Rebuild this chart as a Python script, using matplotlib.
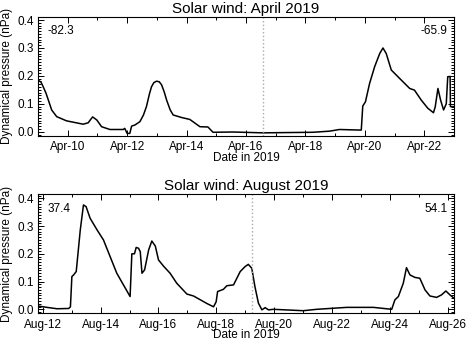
import datetime as dt
import matplotlib
matplotlib.use("Agg")
import matplotlib.pyplot as plt
import matplotlib.dates as mdates
from matplotlib.ticker import MultipleLocator, FormatStrFormatter

plt.rcParams['font.family'] = ['Liberation Sans', 'DejaVu Sans']

# April 2019: day of month (fractional) and dynamic pressure (nPa)
apr_day = [9.0, 9.1, 9.18, 9.27, 9.35, 9.46, 9.63, 9.96, 10.52, 10.69, 10.78, 10.84,
           10.98, 11.14, 11.42, 11.87, 11.92, 12.0, 12.09, 12.15, 12.26, 12.43,
           12.55, 12.65, 12.75, 12.82, 12.9, 12.99, 13.08, 13.16, 13.25, 13.33,
           13.45, 13.55, 13.83, 14.11, 14.45, 14.72, 14.89, 15.56,
           16.57, 18.25, 18.81, 19.15, 19.82, 19.88, 19.93, 20.02, 20.16, 20.33,
           20.5, 20.61, 20.72, 20.89, 21.17, 21.51, 21.67, 21.9, 22.12, 22.31,
           22.37, 22.46, 22.55, 22.65, 22.74, 22.79, 22.87, 22.88, 23.0]
apr_p = [0.185, 0.178, 0.16, 0.138, 0.113, 0.078, 0.054, 0.039, 0.027, 0.032, 0.045, 0.053,
         0.042, 0.018, 0.008, 0.008, 0.012, -0.006, -0.006, 0.02, 0.024, 0.036,
         0.06, 0.09, 0.135, 0.161, 0.176, 0.181, 0.179, 0.168, 0.142, 0.113,
         0.078, 0.06, 0.051, 0.044, 0.018, 0.017, -0.002, -0.001,
         -0.004, -0.002, 0.002, 0.008, 0.006, 0.006, 0.092, 0.107, 0.173, 0.233,
         0.28, 0.30, 0.28, 0.221, 0.191, 0.155, 0.149, 0.113, 0.084, 0.068,
         0.09, 0.155, 0.113, 0.078, 0.10, 0.197, 0.198, 0.09, 0.09]

# August 2019
aug_day = [11.84, 12.15, 12.5, 12.9, 12.96, 13.01, 13.07, 13.16, 13.3, 13.41, 13.5,
           13.64, 13.88, 14.1, 14.33, 14.56, 14.79, 15.02, 15.08, 15.17, 15.23,
           15.31, 15.37, 15.43, 15.52, 15.66, 15.77, 15.89, 16.0, 16.17, 16.4,
           16.63, 16.98, 17.21, 17.67, 17.9, 17.99, 18.04, 18.24, 18.36, 18.59,
           18.82, 18.99, 19.1, 19.22, 19.33, 19.45, 19.57, 19.68, 19.8, 19.97,
           21.0, 21.46, 22.5, 23.42, 24.05, 24.16, 24.28, 24.45, 24.56, 24.68,
           24.85, 25.02, 25.2, 25.37, 25.6, 25.77, 25.92, 26.06, 26.2]
aug_p = [0.012, 0.007, 0.002, 0.003, 0.009, 0.118, 0.124, 0.136, 0.286, 0.376, 0.37,
         0.328, 0.286, 0.25, 0.19, 0.13, 0.088, 0.046, 0.2, 0.2, 0.223,
         0.22, 0.208, 0.13, 0.142, 0.214, 0.246, 0.228, 0.178, 0.156, 0.13,
         0.094, 0.055, 0.048, 0.021, 0.009, 0.027, 0.064, 0.072, 0.085, 0.088,
         0.136, 0.154, 0.162, 0.148, 0.081, 0.022, -0.002, 0.006, -0.002, 0.0,
         -0.005, 0.0, 0.007, 0.007, 0.0, 0.034, 0.046, 0.094, 0.15, 0.124,
         0.115, 0.112, 0.07, 0.048, 0.043, 0.052, 0.066, 0.052, 0.04]

panels = [
    dict(title="Solar wind: April 2019", month=4, day=apr_day, p=apr_p,
         xlim=(9.0, 23.0), ylim=(-0.0143, 0.412), event=16.57,
         left_txt="-82.3", right_txt="-65.9",
         rect=[0.0803, 0.602, 0.8795, 0.349]),
    dict(title="Solar wind: August 2019", month=8, day=aug_day, p=aug_p,
         xlim=(11.84, 26.2), ylim=(-0.0144, 0.4144), event=19.22,
         left_txt="37.4", right_txt="54.1",
         rect=[0.0803, 0.0812, 0.8795, 0.349]),
]


def to_date(month, d):
    return dt.datetime(2019, month, 1) + dt.timedelta(days=d - 1)


fig = plt.figure(figsize=(4.73, 3.41), dpi=100)

for pan in panels:
    ax = fig.add_axes(pan['rect'])
    t = [to_date(pan['month'], d) for d in pan['day']]
    ax.plot(t, pan['p'], color='black', lw=1.1)
    ev = to_date(pan['month'], pan['event'])
    ax.axvline(ev, color='#aaaaaa', ls=':', lw=1.0)
    ax.set_xlim(to_date(pan['month'], pan['xlim'][0]), to_date(pan['month'], pan['xlim'][1]))
    ax.set_ylim(*pan['ylim'])

    ax.xaxis.set_major_locator(mdates.DayLocator(bymonthday=range(2, 32, 2)))
    ax.xaxis.set_minor_locator(mdates.DayLocator())
    ax.xaxis.set_major_formatter(mdates.DateFormatter('%b-%d'))
    ax.yaxis.set_major_locator(MultipleLocator(0.1))
    ax.yaxis.set_minor_locator(MultipleLocator(0.01))
    ax.yaxis.set_major_formatter(FormatStrFormatter('%.1f'))

    ax.tick_params(which='both', direction='in', top=True, right=True,
                   labelsize=8.5, width=0.7)
    ax.tick_params(axis='x', pad=4)
    ax.tick_params(axis='y', pad=3)
    ax.tick_params(which='major', length=4)
    ax.tick_params(which='minor', length=2)
    for s in ax.spines.values():
        s.set_linewidth(0.8)

    ax.set_title(pan['title'], fontsize=11, pad=3)
    ax.set_xlabel("Date in 2019", fontsize=8.5, labelpad=-1)
    ax.set_ylabel("Dynamical pressure (nPa)", fontsize=8.5, labelpad=3)
    ax.text(0.022, 0.93, pan['left_txt'], transform=ax.transAxes,
            ha='left', va='top', fontsize=8.5)
    ax.text(0.985, 0.93, pan['right_txt'], transform=ax.transAxes,
            ha='right', va='top', fontsize=8.5)

fig.savefig("out.png", dpi=100)
